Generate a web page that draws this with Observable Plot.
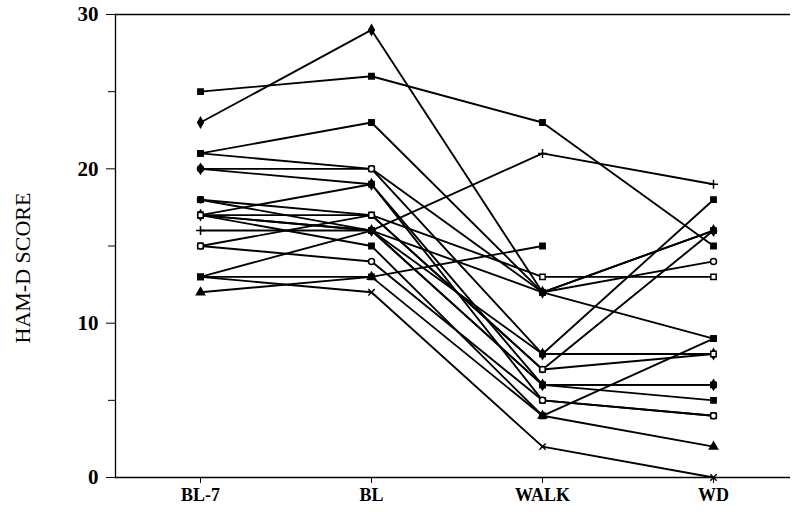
<!DOCTYPE html>
<html>
<head>
<meta charset="utf-8">
<script src="https://cdn.jsdelivr.net/npm/d3@7"></script>
<script src="https://cdn.jsdelivr.net/npm/@observablehq/plot@0.6"></script>
<style>
  html, body { margin: 0; padding: 0; background: white; }
</style>
</head>
<body>
<div id="chart"></div>
<script>
// Time points (x categories)
const timepoints = ["BL-7", "BL", "WALK", "WD"];
// HAM-D scores per subject at each time point (null = missing)
const bl7  = [25, 23, 21, 21, 20, 20, 18, 17, 17, 17, 16, 15, 15, 13, 13, 13, 12, 17, 18, 17];
const bl   = [26, 29, 23, 20, 20, 19, 17, 19, 16, 15, 16, 17, 14, 13, 16, 12, 13, 16, 16, 17];
const walk = [23, 12, 12,  8, 12,  6,  7,  5,  6,  4, 21, 13,  5, 15,  6,  2,  4,  8, 12,  7];
const wd   = [15, 16, 16, 18, 14,  6, 16,  4,  5,  9, 19, 13,  4, null, 6, 0,  2,  8,  9,  8];
// y-axis tick labels
const yMajorTicks = [0, 10, 20, 30];
const yMinorTicks = [5, 15, 25];
const yLabel = "HAM-D SCORE";

// marker styling per subject (style, not data)
const markerSymbol = ["square","diamond","square","square","circle","diamond","circle","square","square","square",
                      "plus","square","circle","square","square","times","triangle","diamond","square","square"];
const markerOpen   = [false,false,false,false,true,false,false,false,false,false,
                      false,true,true,false,false,false,false,false,false,true];

const series = [bl7, bl, walk, wd];
const rows = [];
for (let i = 0; i < bl7.length; i++) {
  timepoints.forEach((t, j) => {
    const v = series[j][i];
    rows.push({id: i, time: t, score: v, symbol: markerSymbol[i], open: markerOpen[i]});
  });
}
const pts = rows.filter(d => d.score != null);

const chart = Plot.plot({
  width: 796,
  height: 512,
  marginLeft: 115,
  marginRight: 6,
  marginTop: 14,
  marginBottom: 35,
  style: {fontFamily: "Liberation Serif, Times New Roman, serif", fontSize: "17px", background: "white", color: "black"},
  x: {type: "point", domain: timepoints, range: [200, 713], padding: 0, align: 0.5},
  y: {domain: [0, 30]},
  symbol: {type: "identity"},
  marks: [
    Plot.ruleY([0, 30], {stroke: "black", strokeWidth: 1.3}),
    Plot.frame({anchor: "left", stroke: "black", strokeWidth: 1.3}),
    Plot.axisY({ticks: yMajorTicks, tickSize: 9, tickPadding: 8, label: null, fontWeight: "bold", fontSize: 21}),
    Plot.axisY({ticks: yMinorTicks, tickSize: 7, tickFormat: () => "", label: null}),
    Plot.axisX({tickSize: 6, tickPadding: 5, label: null, fontWeight: "bold", fontSize: 18}),
    Plot.text([yLabel], {frameAnchor: "left", text: d => d, rotate: -90, textAnchor: "middle", dx: -93, dy: 22, fontSize: 22, fontFamily: "Liberation Serif"}),
    Plot.line(rows, {x: "time", y: "score", z: "id", stroke: "black", strokeWidth: 1.9}),
    Plot.dot(pts, {x: "time", y: "score", symbol: "symbol", r: 3, stroke: "black", strokeWidth: 1.5,
                   fill: d => (d.open ? "white" : "black")})
  ]
});
document.getElementById("chart").appendChild(chart);
</script>
</body>
</html>
